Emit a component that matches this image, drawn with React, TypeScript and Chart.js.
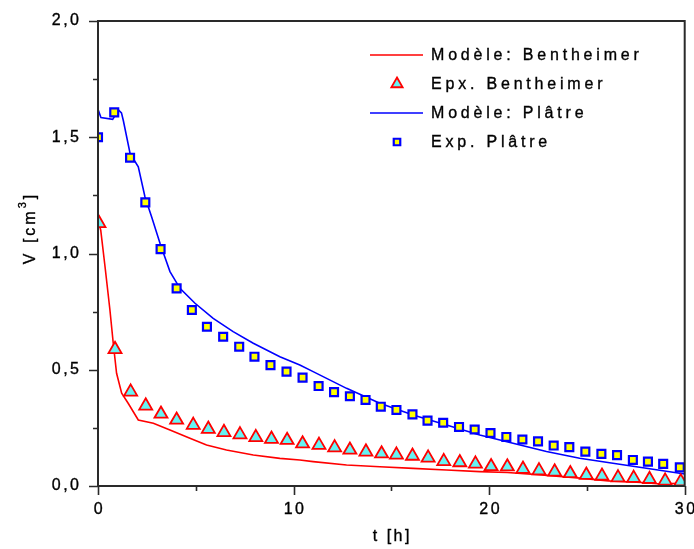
import React, { useEffect, useRef } from 'react';
import { Chart, registerables } from 'chart.js';
import { drawPoint } from 'chart.js/helpers';

Chart.register(...registerables);

// ---- Data (t in hours, V in cm^3) ----
const tModelBentheimer = [0, 0.14, 0.36, 0.61, 0.78, 0.95, 1.21, 1.55, 2.06, 2.83, 3.68, 4.7, 5.55, 6.57, 7.94, 9.3, 10.32, 11.0, 12.71, 14.41, 16.11, 17.82, 19.52, 20.93, 22.66, 24.37, 26.1, 27.8, 28.6, 30];
const vModelBentheimer = [1.144, 1.1, 0.943, 0.757, 0.614, 0.485, 0.399, 0.355, 0.284, 0.27, 0.241, 0.205, 0.176, 0.155, 0.133, 0.119, 0.112, 0.105, 0.09, 0.083, 0.076, 0.069, 0.062, 0.058, 0.048, 0.036, 0.022, 0.015, 0.01, 0.012];

const tExpBentheimer = [0.05, 0.87, 1.67, 2.44, 3.22, 4.02, 4.87, 5.64, 6.44, 7.26, 8.07, 8.87, 9.67, 10.46, 11.3, 12.1, 12.88, 13.7, 14.5, 15.26, 16.08, 16.88, 17.68, 18.5, 19.3, 20.1, 20.93, 21.73, 22.55, 23.35, 24.15, 24.97, 25.77, 26.59, 27.39, 28.2, 29.0, 29.8];
const vExpBentheimer = [1.13, 0.588, 0.405, 0.345, 0.31, 0.284, 0.262, 0.245, 0.231, 0.221, 0.209, 0.202, 0.197, 0.182, 0.176, 0.165, 0.155, 0.147, 0.139, 0.134, 0.129, 0.121, 0.106, 0.101, 0.095, 0.084, 0.083, 0.073, 0.066, 0.061, 0.054, 0.047, 0.043, 0.036, 0.034, 0.029, 0.022, 0.019];

const tModelPlatre = [0, 0.15, 0.75, 1.05, 1.2, 1.3, 1.64, 2.06, 2.4, 2.74, 3.17, 3.68, 4.19, 4.96, 5.89, 6.91, 7.94, 9.3, 10.32, 11.0, 12.71, 14.41, 16.11, 17.82, 19.52, 21.22, 22.93, 24.63, 26.33, 28.04, 29.74, 30];
const vModelPlatre = [1.62, 1.585, 1.577, 1.617, 1.605, 1.57, 1.43, 1.373, 1.244, 1.158, 1.044, 0.922, 0.85, 0.786, 0.721, 0.664, 0.614, 0.556, 0.52, 0.492, 0.42, 0.356, 0.305, 0.262, 0.219, 0.184, 0.148, 0.119, 0.098, 0.076, 0.055, 0.052];

const tExpPlatre = [0, 0.83, 1.64, 2.42, 3.2, 4.02, 4.8, 5.57, 6.4, 7.22, 8.0, 8.82, 9.64, 10.46, 11.28, 12.07, 12.88, 13.68, 14.46, 15.26, 16.08, 16.85, 17.65, 18.46, 19.26, 20.07, 20.88, 21.7, 22.5, 23.3, 24.1, 24.92, 25.74, 26.54, 27.35, 28.12, 28.9, 29.75];
const vExpPlatre = [1.5, 1.607, 1.412, 1.22, 1.019, 0.85, 0.757, 0.685, 0.642, 0.599, 0.556, 0.52, 0.492, 0.466, 0.43, 0.404, 0.386, 0.37, 0.341, 0.327, 0.308, 0.281, 0.272, 0.254, 0.243, 0.228, 0.211, 0.2, 0.192, 0.174, 0.167, 0.148, 0.138, 0.133, 0.112, 0.105, 0.095, 0.08];

const seriesLabels = ['Modèle: Bentheimer', 'Epx. Bentheimer', 'Modèle: Plâtre', 'Exp. Plâtre'];

const xMajorTicks = [0, 10, 20, 30];
const xTickLabels = ['0', '10', '20', '30'];
const xMinorTicks = [5, 15, 25];
const yMajorTicks = [0, 0.5, 1, 1.5, 2];
const yTickLabels = ['0,0', '0,5', '1,0', '1,5', '2,0'];
const yMinorTicks = [0.25, 0.75, 1.25, 1.75];

const xTitle = 't [h]';
const yTitleMain = 'V [cm';
const yTitleSup = '3';
const yTitleEnd = ']';

const toPoints = (ts: number[], vs: number[]) => ts.map((t, i) => ({ x: t, y: vs[i] }));

const RED = '#FF0000';
const BLUE = '#0000FF';
const CYAN = '#66F2F2';
const YELLOW = '#FFFF00';
const FONT = '"Liberation Sans", Arial, sans-serif';
const TEXT = '#000000';

// slightly darkened text (mimics the bitmap font of the original)
function strongText(ctx: CanvasRenderingContext2D, s: string, x: number, y: number) {
  ctx.fillText(s, x, y);
  ctx.lineWidth = 0.35;
  ctx.strokeStyle = TEXT;
  ctx.strokeText(s, x, y);
}

export default function App() {
  const ref = useRef<HTMLCanvasElement>(null);

  useEffect(() => {
    const canvas = ref.current;
    if (!canvas) return;

    const decorPlugin = {
      id: 'decor',
      afterDraw(chart: any) {
        const { ctx, chartArea: a, scales } = chart;
        const xs = scales.x;
        const ys = scales.y;
        ctx.save();
        // frame
        ctx.strokeStyle = '#2a2a2a';
        ctx.lineWidth = 2;
        ctx.strokeRect(a.left, a.top, a.right - a.left, a.bottom - a.top);
        // ticks
        ctx.lineWidth = 1.6;
        ctx.beginPath();
        yMajorTicks.forEach((v) => {
          const py = Math.round(ys.getPixelForValue(v)) + 0.5;
          ctx.moveTo(a.left - 9, py);
          ctx.lineTo(a.left, py);
        });
        yMinorTicks.forEach((v) => {
          const py = Math.round(ys.getPixelForValue(v)) + 0.5;
          ctx.moveTo(a.left - 5, py);
          ctx.lineTo(a.left, py);
        });
        xMajorTicks.forEach((v) => {
          const px = Math.round(xs.getPixelForValue(v)) + 0.5;
          ctx.moveTo(px, a.bottom);
          ctx.lineTo(px, a.bottom + 9);
        });
        xMinorTicks.forEach((v) => {
          const px = Math.round(xs.getPixelForValue(v)) + 0.5;
          ctx.moveTo(px, a.bottom);
          ctx.lineTo(px, a.bottom + 5);
        });
        ctx.stroke();

        // tick labels
        ctx.fillStyle = TEXT;
        ctx.font = `16px ${FONT}`;
        (ctx as any).letterSpacing = '2.5px';
        ctx.textBaseline = 'middle';
        ctx.textAlign = 'right';
        yMajorTicks.forEach((v, i) => {
          strongText(ctx, yTickLabels[i], a.left - 16.5, ys.getPixelForValue(v));
        });
        ctx.textAlign = 'center';
        xMajorTicks.forEach((v, i) => {
          strongText(ctx, xTickLabels[i], xs.getPixelForValue(v) + 1.5, a.bottom + 24);
        });

        // axis titles
        (ctx as any).letterSpacing = '2.5px';
        strongText(ctx, xTitle, (a.left + a.right) / 2 + 1, a.bottom + 51);

        ctx.save();
        ctx.translate(31, 228);
        ctx.rotate(-Math.PI / 2);
        (ctx as any).letterSpacing = '3px';
        ctx.font = `16px ${FONT}`;
        const w1 = ctx.measureText(yTitleMain).width;
        ctx.font = `11px ${FONT}`;
        const w2 = ctx.measureText(yTitleSup).width;
        ctx.font = `16px ${FONT}`;
        const w3 = ctx.measureText(yTitleEnd).width;
        const total = w1 + w2 + w3;
        let cx = -total / 2;
        ctx.textAlign = 'left';
        strongText(ctx, yTitleMain, cx, 0);
        cx += w1;
        ctx.font = `11px ${FONT}`;
        strongText(ctx, yTitleSup, cx, -8);
        cx += w2;
        ctx.font = `16px ${FONT}`;
        strongText(ctx, yTitleEnd, cx, 0);
        ctx.restore();

        // legend
        const rows = [55, 84, 113, 142];
        const lineX0 = 370;
        const lineX1 = 423;
        const markX = 397;
        const textX = 431;
        ctx.font = `16px ${FONT}`;
        (ctx as any).letterSpacing = '3.8px';
        ctx.textAlign = 'left';
        ctx.textBaseline = 'middle';
        [0, 1, 2, 3].forEach((di, r) => {
          const ds = chart.data.datasets[di];
          const yy = rows[r];
          if (ds.showLine) {
            ctx.strokeStyle = ds.borderColor;
            ctx.lineWidth = ds.borderWidth;
            ctx.beginPath();
            ctx.moveTo(lineX0, yy);
            ctx.lineTo(lineX1, yy);
            ctx.stroke();
          } else {
            ctx.fillStyle = ds.pointBackgroundColor;
            ctx.strokeStyle = ds.pointBorderColor;
            ctx.lineWidth = ds.pointBorderWidth;
            drawPoint(ctx, { pointStyle: ds.pointStyle, rotation: 0, radius: ds.pointRadius - 1, borderWidth: ds.pointBorderWidth }, markX, yy);
          }
          ctx.fillStyle = TEXT;
          strongText(ctx, ds.label, textX, yy + 1);
        });
        ctx.restore();
      },
    };

    const chart = new Chart(canvas, {
      type: 'scatter',
      data: {
        datasets: [
          {
            label: seriesLabels[0],
            data: toPoints(tModelBentheimer, vModelBentheimer),
            showLine: true,
            borderColor: RED,
            borderWidth: 1.6,
            pointRadius: 0,
            tension: 0,
            order: 2,
            clip: 0,
          },
          {
            label: seriesLabels[1],
            data: toPoints(tExpBentheimer, vExpBentheimer),
            showLine: false,
            pointStyle: 'triangle',
            pointRadius: 7.5,
            pointBorderWidth: 1.8,
            pointBackgroundColor: CYAN,
            pointBorderColor: RED,
            order: 1,
            clip: 0,
          },
          {
            label: seriesLabels[2],
            data: toPoints(tModelPlatre, vModelPlatre),
            showLine: true,
            borderColor: BLUE,
            borderWidth: 1.6,
            pointRadius: 0,
            tension: 0,
            order: 2,
            clip: 0,
          },
          {
            label: seriesLabels[3],
            data: toPoints(tExpPlatre, vExpPlatre),
            showLine: false,
            pointStyle: 'rect',
            pointRadius: 5.6,
            pointBorderWidth: 2.2,
            pointBackgroundColor: YELLOW,
            pointBorderColor: BLUE,
            order: 0,
            clip: 0,
          },
        ],
      },
      options: {
        animation: false,
        responsive: true,
        maintainAspectRatio: false,
        layout: { padding: { left: 0, right: 9, top: 21, bottom: 0 } },
        plugins: { legend: { display: false }, tooltip: { enabled: false } },
        scales: {
          x: {
            type: 'linear',
            min: 0,
            max: 30,
            grid: { display: false },
            border: { display: false },
            ticks: { display: false },
            afterFit: (s: any) => { s.height = 63; },
          },
          y: {
            type: 'linear',
            min: 0,
            max: 2,
            grid: { display: false },
            border: { display: false },
            ticks: { display: false },
            afterFit: (s: any) => { s.width = 98; },
          },
        },
      },
      plugins: [decorPlugin],
    } as any);

    return () => chart.destroy();
  }, []);

  return (
    <div style={{ position: 'absolute', left: 0, top: 0, width: 694, height: 549, background: '#ffffff' }}>
      <canvas ref={ref} />
    </div>
  );
}
